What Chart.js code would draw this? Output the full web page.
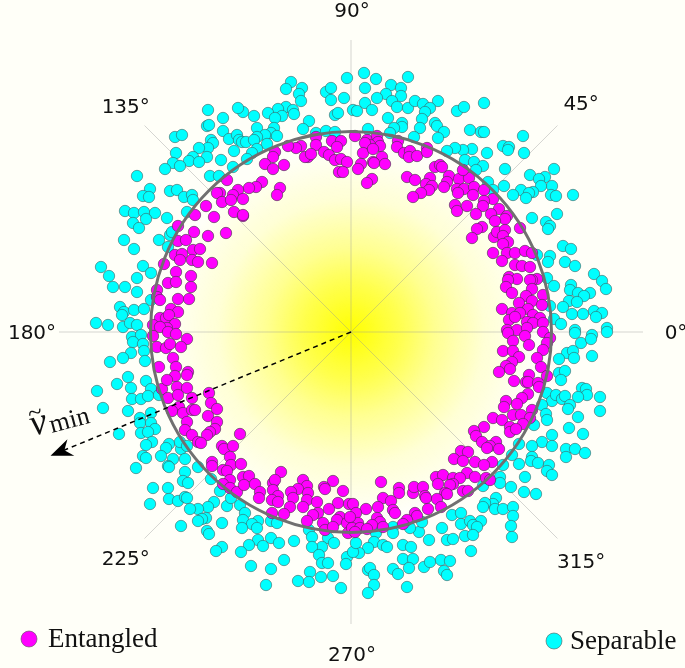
<!DOCTYPE html>
<html>
<head>
<meta charset="utf-8">
<title>Entangled / Separable</title>
<script src="https://cdn.jsdelivr.net/npm/chart.js@4"></script>
<style>
  html, body { margin: 0; padding: 0; background: #fffff8; }
  canvas { display: block; }
</style>
</head>
<body>
<canvas id="chart" width="685" height="668"></canvas>
<script>
// angle ticks and the unit circle (circle radius about 200)
const angleTicks = [0, 45, 90, 135, 180, 225, 270, 315];
const angleLabels = ['0°', '45°', '90°', '135°', '180°', '225°', '270°', '315°'];
const circleRadius = 200.5;
const spokeLength = 292;
const nuMinAngle = 202.4;
const nuMinLength = 325;

const seriesNames = ['Entangled', 'Separable'];

// [x, y]
const entangled = [
[-19,191],[-10,191],[-35,195],[-35,187],[-14,185],[-27,180],[-22,177],[-16,172],[-10,173],[-4,170],[-43,175],[-46,175],[-40,178],[-50,186],[-55,184],[-63,186],[-76,180],[-78,175],[-86,168],[-78,163],[-67,167],[-12,160],[-8,160],[-71,144],[-74,137],[-89,150],[-95,145],[-102,144],[-113,142],[-124,152],[-118,137],[-131,139],[-134,139],[-129,130],[-120,132],[-108,133],[-117,120],[-108,116],[-108,117],[-145,126],[-137,115],[-156,117],[-173,106],[-157,100],[-143,96],[-125,99],[-173,91],[-165,92],[-158,82],[-151,83],[-176,77],[-169,78],[-171,72],[-159,72],[-153,70],[-139,69],[-187,68],[-175,60],[-160,56],[-183,49],[-175,50],[-160,45],[-194,42],[-194,35],[-191,32],[-173,33],[-162,33],[-180,23],[-173,20],[-191,14],[-185,14],[-182,17],[-176,8],[-184,4],[-198,7],[-191,5],
[4,196],[16,192],[26,196],[27,190],[29,186],[19,187],[14,189],[12,179],[22,183],[31,175],[22,170],[23,169],[34,168],[10,168],[7,163],[21,153],[16,149],[47,191],[46,185],[53,179],[59,181],[58,175],[66,176],[76,184],[76,180],[84,165],[89,167],[91,165],[56,155],[64,152],[79,154],[75,148],[81,146],[78,142],[70,139],[62,135],[98,156],[96,150],[93,145],[108,153],[118,154],[112,162],[106,143],[113,143],[107,139],[123,145],[133,142],[122,137],[142,133],[133,131],[132,126],[104,127],[106,121],[116,126],[125,118],[148,123],[140,118],[156,116],[154,113],[144,111],[169,104],[131,105],[126,103],[121,94],[143,95],[146,100],[154,102],[152,96],[157,90],[152,88],[142,79],[156,79],[164,79],[174,81],[151,71],[164,67],[171,66],[179,65],[181,79],[158,55],[166,53],[157,52],[186,53],[181,52],[179,52],[155,45],[181,43],[161,39],[192,37],[175,36],[181,31],[168,29],[191,27],[177,23],[151,23],[161,19],[169,19],[182,17],[158,12],[164,15],[189,14],[176,10],[182,9],[192,9],[156,2],[166,2],[176,4],
[-198,-4],[-183,0],[-175,-2],[-164,-7],[-194,-15],[-185,-16],[-181,-12],[-170,-15],[-178,-26],[-192,-35],[-175,-35],[-176,-44],[-163,-40],[-164,-43],[-189,-57],[-184,-48],[-174,-55],[-164,-56],[-183,-66],[-173,-63],[-159,-66],[-142,-61],[-140,-71],[-134,-77],[-172,-75],[-179,-79],[-168,-81],[-159,-78],[-156,-78],[-143,-84],[-134,-90],[-164,-90],[-166,-98],[-136,-97],[-141,-100],[-144,-103],[-159,-103],[-153,-110],[-150,-111],[-111,-102],[-129,-114],[-127,-117],[-118,-114],[-121,-125],[-139,-130],[-139,-134],[-120,-133],[-110,-132],[-128,-138],[-124,-139],[-108,-145],[-102,-144],[-70,-140],[-121,-148],[-128,-152],[-121,-156],[-114,-160],[-107,-153],[-96,-152],[-48,-148],[-18,-149],[-78,-151],[-76,-148],[-27,-155],[-26,-157],[-44,-154],[-53,-157],[-60,-160],[-43,-161],[-8,-159],[-78,-158],[-73,-164],[-91,-160],[-92,-166],[-79,-168],[-73,-170],[-58,-166],[-44,-168],[-34,-170],[-61,-175],[-48,-175],[-13,-171],[-2,-172],[-79,-181],[-67,-182],[-22,-177],[-33,-181],[-38,-183],[-11,-185],[-44,-189],[-28,-191],[-14,-188],[-4,-191],[-26,-198],[-18,-195],[-3,-201],
[157,-1],[174,-4],[192,0],[162,-9],[178,-13],[199,-6],[196,-11],[152,-19],[162,-19],[192,-18],[168,-25],[161,-30],[186,-26],[190,-35],[155,-34],[148,-40],[159,-37],[163,-49],[178,-43],[196,-44],[175,-50],[177,-50],[187,-51],[188,-55],[177,-62],[171,-66],[166,-72],[155,-69],[153,-75],[181,-78],[162,-83],[170,-83],[179,-86],[142,-86],[151,-88],[172,-92],[133,-95],[159,-95],[159,-100],[165,-97],[123,-99],[125,-104],[131,-110],[145,-110],[139,-114],[148,-117],[136,-116],[110,-119],[117,-120],[103,-127],[112,-129],[124,-130],[141,-130],[133,-133],[85,-145],[92,-143],[87,-152],[102,-146],[116,-141],[109,-146],[124,-145],[135,-146],[139,-148],[102,-152],[99,-153],[94,-161],[96,-162],[112,-159],[117,-159],[30,-150],[48,-156],[48,-161],[62,-161],[63,-155],[72,-155],[74,-164],[75,-166],[86,-167],[90,-175],[77,-177],[32,-166],[27,-175],[15,-177],[40,-169],[42,-178],[44,-181],[2,-172],[5,-181],[26,-186],[29,-190],[64,-181],[66,-184],[56,-188],[52,-192],[21,-193],[7,-191],[-1,-185],[1,-196],[9,-196],[16,-197],[4,-200],[32,-195]
];

const separable = [
[-60,250],[-65,243],[-49,244],[-52,238],[-50,231],[-65,225],[-73,223],[-58,222],[-57,218],[-69,216],[-83,219],[-76,214],[-97,216],[-108,220],[-113,224],[-128,214],[-143,222],[-144,206],[-142,207],[-42,211],[-48,203],[-94,204],[-77,204],[-80,199],[-86,197],[-74,196],[-94,195],[-128,201],[-122,193],[-114,197],[-112,192],[-109,190],[-105,190],[-97,192],[-84,188],[-117,181],[-94,183],[-99,179],[-104,173],[-140,192],[-138,189],[-143,184],[-152,184],[-144,175],[-158,175],[-162,171],[-152,170],[-175,179],[-178,169],[-171,166],[-186,163],[-176,195],[-169,197],[-130,172],[-118,165],[-141,156],[-132,156],[-214,156],[-201,143],[-208,136],[-202,135],[-181,141],[-174,142],[-167,135],[-159,137],[-158,132],[-164,120],[-226,121],[-217,119],[-207,120],[-196,119],[-205,113],[-218,109],[-212,104],[-184,114],[-227,92],[-217,83],[-192,92],[-181,97],[-179,100],[-183,85],[-250,65],[-242,56],[-238,45],[-226,45],[-208,66],[-200,59],[-214,54],[-214,40],[-200,32],[-231,25],[-227,20],[-229,17],[-217,22],[-207,23],[-255,9],[-243,7],[-228,5],[-221,9],[-214,7],[-35,199],[-25,201],[-16,200],[-25,240],[-20,244],[-20,232],[-7,234],[-4,254],[-16,217],[-13,219],
[13,259],[25,253],[57,255],[14,244],[40,247],[50,244],[35,238],[50,236],[26,234],[41,231],[14,229],[2,222],[6,221],[21,222],[46,225],[57,224],[64,231],[72,228],[87,231],[79,224],[74,220],[71,213],[37,214],[51,209],[51,205],[43,204],[39,199],[17,203],[69,204],[63,195],[84,209],[86,206],[93,200],[87,194],[106,221],[113,225],[133,229],[119,202],[130,200],[133,200],[172,196],[152,186],[158,185],[157,182],[173,179],[136,179],[121,183],[112,182],[104,184],[96,181],[114,172],[123,170],[132,166],[125,162],[154,163],[137,150],[153,146],[142,142],[203,163],[179,157],[194,155],[188,153],[201,146],[190,146],[182,140],[170,142],[178,139],[162,137],[175,134],[200,137],[205,136],[222,137],[181,114],[206,118],[195,110],[199,106],[197,103],[186,77],[212,86],[220,83],[199,76],[197,70],[214,70],[224,66],[243,58],[251,51],[255,43],[196,54],[203,46],[220,47],[219,42],[227,39],[239,39],[233,36],[218,31],[226,30],[212,25],[199,26],[221,18],[232,18],[243,21],[251,19],[245,15],[203,13],[210,8],[224,2],[256,4],
[-219,-5],[-210,-3],[-218,-10],[-208,-12],[-207,-19],[-220,-21],[-228,-26],[-241,-30],[-206,-29],[-223,-45],[-205,-49],[-234,-52],[-220,-56],[-200,-57],[-254,-59],[-219,-67],[-210,-67],[-203,-64],[-192,-63],[-248,-76],[-223,-79],[-200,-81],[-211,-86],[-211,-91],[-200,-91],[-196,-97],[-210,-101],[-203,-100],[-232,-102],[-199,-110],[-205,-113],[-182,-112],[-185,-116],[-170,-117],[-171,-110],[-164,-114],[-190,-124],[-178,-127],[-166,-127],[-208,-124],[-205,-126],[-215,-136],[-183,-134],[-182,-135],[-153,-135],[-166,-140],[-168,-149],[-163,-151],[-140,-147],[-198,-156],[-183,-156],[-131,-159],[-182,-167],[-173,-169],[-166,-165],[-164,-166],[-201,-172],[-124,-174],[-120,-166],[-111,-173],[-137,-170],[-143,-175],[-153,-177],[-161,-177],[-106,-181],[-108,-188],[-93,-189],[-99,-192],[-94,-196],[-109,-196],[-80,-189],[-74,-191],[-145,-186],[-149,-187],[-153,-189],[-129,-191],[-170,-194],[-144,-199],[-142,-202],[-93,-208],[-102,-213],[-88,-214],[-80,-206],[-72,-211],[-57,-209],[-129,-215],[-135,-219],[-110,-220],[-42,-198],[-39,-205],[-23,-206],[-17,-211],[-29,-215],[-39,-215],[-32,-223],[-29,-231],[-23,-231],[-4,-225],[-5,-232],[-67,-228],[-100,-234],[-80,-237],[-41,-240],[-30,-245],[-18,-244],[-53,-249],[-42,-250],[-85,-253],[-10,-256],
[224,-1],[241,-3],[256,0],[230,-11],[240,-7],[216,-21],[222,-19],[223,-26],[208,-27],[241,-24],[208,-41],[214,-39],[210,-48],[196,-61],[201,-69],[205,-63],[211,-67],[214,-64],[219,-73],[217,-77],[231,-56],[235,-57],[236,-63],[227,-65],[249,-65],[249,-79],[191,-73],[195,-82],[196,-88],[227,-85],[183,-93],[218,-96],[201,-103],[232,-102],[191,-110],[181,-114],[201,-114],[168,-112],[215,-117],[224,-117],[234,-121],[215,-125],[181,-125],[180,-129],[161,-123],[187,-131],[198,-133],[168,-132],[152,-133],[196,-139],[201,-143],[174,-145],[149,-145],[149,-151],[132,-154],[160,-155],[173,-160],[185,-162],[145,-166],[142,-172],[134,-171],[132,-175],[144,-177],[152,-177],[162,-175],[162,-184],[160,-194],[161,-205],[101,-183],[110,-181],[110,-192],[119,-189],[130,-189],[122,-193],[126,-195],[114,-204],[122,-203],[91,-196],[78,-208],[96,-208],[102,-207],[68,-200],[59,-196],[42,-195],[42,-201],[25,-201],[23,-210],[17,-216],[32,-213],[36,-215],[52,-213],[60,-215],[120,-219],[8,-221],[2,-220],[5,-211],[52,-227],[62,-227],[58,-236],[73,-235],[79,-230],[90,-228],[99,-229],[93,-239],[96,-243],[42,-237],[47,-242],[17,-238],[19,-236],[23,-243],[23,-253],[56,-255],[17,-261],[71,-190]
];

const toPoints = rows => rows.map(r => ({ x: r[0], y: r[1] }));
const rad = deg => deg * Math.PI / 180;

// yellow glow and the thin spokes, below the points
const backdropPlugin = {
    id: 'backdrop',
    beforeDatasetsDraw(chart) {
        const { ctx, scales: { x, y } } = chart;
        const cx = x.getPixelForValue(0), cy = y.getPixelForValue(0);
        ctx.save();
        const glow = ctx.createRadialGradient(cx, cy, 0, cx, cy, 185);
        glow.addColorStop(0, 'rgba(255,255,0,1)');
        glow.addColorStop(0.27, 'rgba(255,255,0,0.68)');
        glow.addColorStop(0.45, 'rgba(255,255,0,0.42)');
        glow.addColorStop(0.72, 'rgba(255,255,0,0.14)');
        glow.addColorStop(1, 'rgba(255,255,0,0)');
        ctx.fillStyle = glow;
        ctx.beginPath();
        ctx.arc(cx, cy, 185, 0, Math.PI * 2);
        ctx.fill();

        ctx.strokeStyle = 'rgba(150,150,150,0.4)';
        ctx.lineWidth = 1;
        angleTicks.forEach(a => {
            ctx.beginPath();
            ctx.moveTo(cx, cy);
            ctx.lineTo(x.getPixelForValue(spokeLength * Math.cos(rad(a))), y.getPixelForValue(spokeLength * Math.sin(rad(a))));
            ctx.stroke();
        });
        ctx.restore();
    }
};

// circle, dashed arrow and all the text, above the points
const overlayPlugin = {
    id: 'overlay',
    afterDatasetsDraw(chart) {
        const { ctx, scales: { x, y } } = chart;
        const cx = x.getPixelForValue(0), cy = y.getPixelForValue(0);
        ctx.save();
        ctx.strokeStyle = '#707070';
        ctx.lineWidth = 3;
        ctx.beginPath();
        ctx.arc(cx, cy, x.getPixelForValue(circleRadius) - cx, 0, Math.PI * 2);
        ctx.stroke();

        // nu-min arrow
        const tipX = x.getPixelForValue(nuMinLength * Math.cos(rad(nuMinAngle)));
        const tipY = y.getPixelForValue(nuMinLength * Math.sin(rad(nuMinAngle)));
        ctx.strokeStyle = '#000';
        ctx.lineWidth = 1.5;
        ctx.setLineDash([5, 4]);
        ctx.beginPath();
        ctx.moveTo(cx, cy);
        ctx.lineTo(tipX + 12, tipY - 5);
        ctx.stroke();
        ctx.setLineDash([]);
        ctx.translate(tipX, tipY);
        ctx.rotate(-rad(nuMinAngle - 180));
        ctx.fillStyle = '#000';
        ctx.beginPath();
        ctx.moveTo(0, 0);
        ctx.lineTo(22, -9);
        ctx.lineTo(15, 0);
        ctx.lineTo(22, 9);
        ctx.closePath();
        ctx.fill();
        ctx.setTransform(1, 0, 0, 1, 0, 0);

        // angle labels
        ctx.fillStyle = '#111';
        ctx.font = '20px "DejaVu Sans"';
        ctx.textAlign = 'center';
        ctx.textBaseline = 'middle';
        const labelRadius = { 0: 324, 45: 324, 90: 322, 135: 320, 180: 320, 225: 320, 270: 322, 315: 324 };
        angleTicks.forEach((a, i) => {
            const r = labelRadius[a];
            ctx.fillText(angleLabels[i], x.getPixelForValue(r * Math.cos(rad(a))) + 1, y.getPixelForValue(r * Math.sin(rad(a))) + 2);
        });

        // nu-min label, tilde placed by hand since the combining mark lands badly
        ctx.save();
        ctx.translate(33, 436);
        ctx.rotate(-rad(15));
        ctx.textAlign = 'left';
        ctx.textBaseline = 'alphabetic';
        ctx.font = 'italic 38px "Liberation Serif"';
        ctx.fillText('ν', 0, 0);
        ctx.font = '26px "Liberation Serif"';
        ctx.fillText('~', 1, -14);
        ctx.fillText('min', 19, 2);
        ctx.restore();

        // the two legend entries sit in opposite corners
        const legend = [
            { name: seriesNames[0], fill: '#ff00ff', dot: 29, y: 639, text: 48 },
            { name: seriesNames[1], fill: '#00ffff', dot: 554, y: 641, text: 570 }
        ];
        legend.forEach(e => {
            ctx.beginPath();
            ctx.arc(e.dot, e.y, 8, 0, Math.PI * 2);
            ctx.fillStyle = e.fill;
            ctx.fill();
            ctx.strokeStyle = 'rgba(90,90,90,0.6)';
            ctx.lineWidth = 1;
            ctx.stroke();
            ctx.fillStyle = '#111';
            ctx.font = '27px "Liberation Serif"';
            ctx.textAlign = 'left';
            ctx.textBaseline = 'middle';
            ctx.fillText(e.name, e.text, e.y + 1);
        });
        ctx.restore();
    }
};

new Chart(document.getElementById('chart'), {
    type: 'scatter',
    data: {
        datasets: [
            {
                label: seriesNames[0], data: toPoints(entangled), order: 1,
                backgroundColor: '#ff00ff', borderColor: 'rgba(80,50,80,0.65)',
                borderWidth: 1, pointRadius: 5.7
            },
            {
                label: seriesNames[1], data: toPoints(separable), order: 2,
                backgroundColor: '#00ffff', borderColor: 'rgba(60,100,100,0.6)',
                borderWidth: 1, pointRadius: 5.7
            }
        ]
    },
    options: {
        responsive: false,
        animation: false,
        layout: { padding: 0, autoPadding: false },
        plugins: { legend: { display: false }, tooltip: { enabled: false } },
        scales: {
            x: { type: 'linear', min: -351, max: 334, display: false },
            y: { type: 'linear', min: -336, max: 332, display: false }
        }
    },
    plugins: [backdropPlugin, overlayPlugin]
});
</script>
</body>
</html>
